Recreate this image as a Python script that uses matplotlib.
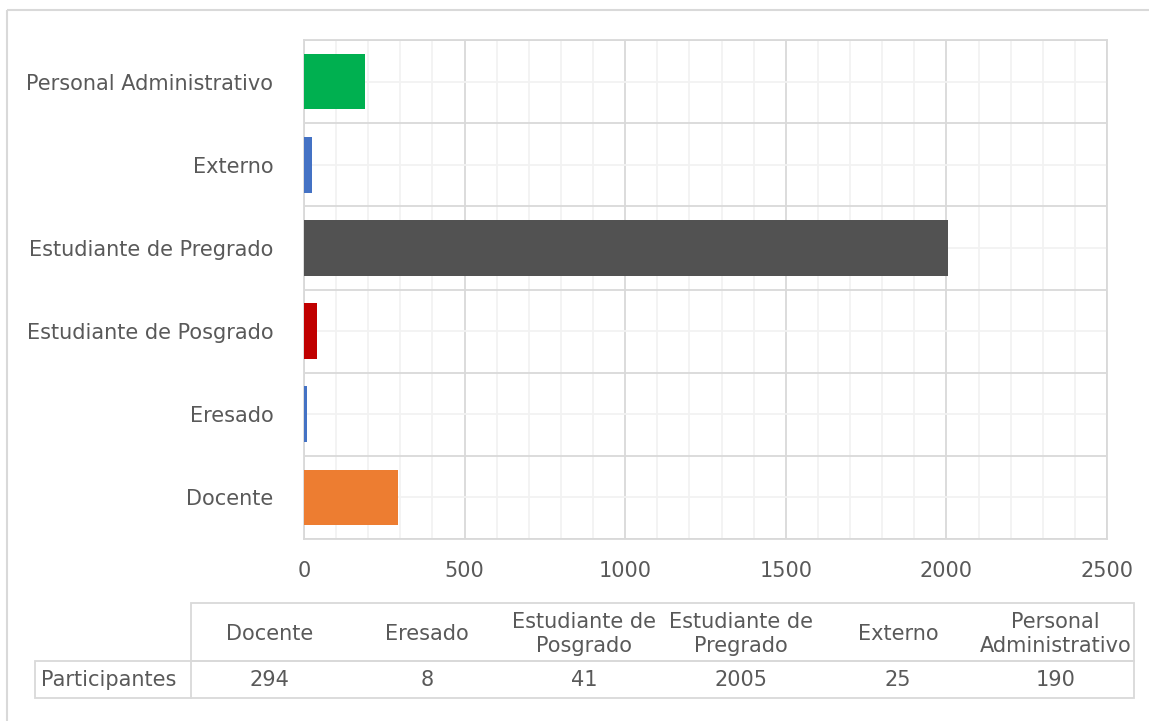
import textwrap
import matplotlib
matplotlib.use("Agg")
import matplotlib.pyplot as plt
from matplotlib.patches import Rectangle
from matplotlib.ticker import MultipleLocator

# data
categories = ["Docente", "Eresado", "Estudiante de Posgrado",
              "Estudiante de Pregrado", "Externo", "Personal Administrativo"]
participantes = [294, 8, 41, 2005, 25, 190]
colors = ["#ED7D31", "#4472C4", "#C00000", "#525252", "#4472C4", "#00B050"]
row_label = "Participantes"

txt = "#595959"
grid_major = "#D9D9D9"
grid_minor = "#F2F2F2"
fs = 15

plt.rcParams["font.family"] = ["DejaVu Sans"]

fig = plt.figure(figsize=(11.49, 7.21), dpi=100)
W, H = 1149, 721

# plot area in pixel terms
left, right, top, bottom = 304, 1107, 40, 539
ax = fig.add_axes([left / W, 1 - bottom / H, (right - left) / W, (bottom - top) / H])

ypos = range(len(categories))
ax.barh(ypos, participantes, height=0.67, color=colors, zorder=3)

ax.set_xlim(0, 2500)
ax.set_ylim(-0.5, len(categories) - 0.5)
ax.xaxis.set_major_locator(MultipleLocator(500))
ax.xaxis.set_minor_locator(MultipleLocator(100))
ax.set_yticks(list(ypos))
ax.set_yticklabels(categories)
ax.set_yticks([i - 0.5 for i in range(len(categories) + 1)], minor=True)

ax.set_axisbelow(True)
ax.grid(True, axis="x", which="minor", color=grid_minor, lw=1.3)
ax.grid(True, axis="x", which="major", color=grid_major, lw=1.3)
ax.grid(True, axis="y", which="major", color=grid_minor, lw=1.3)
ax.grid(True, axis="y", which="minor", color=grid_major, lw=1.3)

for s in ax.spines.values():
    s.set_color(grid_major)
    s.set_linewidth(1.3)

ax.tick_params(axis="both", which="both", length=0, colors=txt, labelsize=fs)
ax.tick_params(axis="x", pad=16)
ax.tick_params(axis="y", pad=22)

# overlay for the outer frame and the data table
ov = fig.add_axes([0, 0, 1, 1], zorder=-1)
ov.set_xlim(0, W)
ov.set_ylim(H, 0)
ov.axis("off")
ov.add_patch(Rectangle((7, 10), W + 20, H + 20, fill=False, ec=grid_major, lw=1.5))

tl = fig.add_axes([0, 0, 1, 1])
tl.set_xlim(0, W)
tl.set_ylim(H, 0)
tl.axis("off")
tl.patch.set_alpha(0)

t_left, t_div, t_right = 35, 191, 1134
t_top, t_mid, t_bot = 603, 661, 698
lw = 1.3
# header box
tl.add_patch(Rectangle((t_div, t_top), t_right - t_div, t_mid - t_top,
                       fill=False, ec=grid_major, lw=lw))
# value row box
tl.add_patch(Rectangle((t_left, t_mid), t_right - t_left, t_bot - t_mid,
                       fill=False, ec=grid_major, lw=lw))
tl.plot([t_div, t_div], [t_mid, t_bot], color=grid_major, lw=lw)

cw = (t_right - t_div) / len(categories)
for i, (c, v) in enumerate(zip(categories, participantes)):
    cx = t_div + cw * (i + 0.5)
    tl.text(cx, (t_top + t_mid) / 2 + 2, textwrap.fill(c, 14), ha="center", va="center",
            color=txt, fontsize=fs, linespacing=1.3)
    tl.text(cx, (t_mid + t_bot) / 2 + 1, str(v), ha="center", va="center",
            color=txt, fontsize=fs)
tl.text(t_left + 6, (t_mid + t_bot) / 2 + 1, row_label, ha="left", va="center",
        color=txt, fontsize=fs)

fig.savefig("out.png", dpi=100)
